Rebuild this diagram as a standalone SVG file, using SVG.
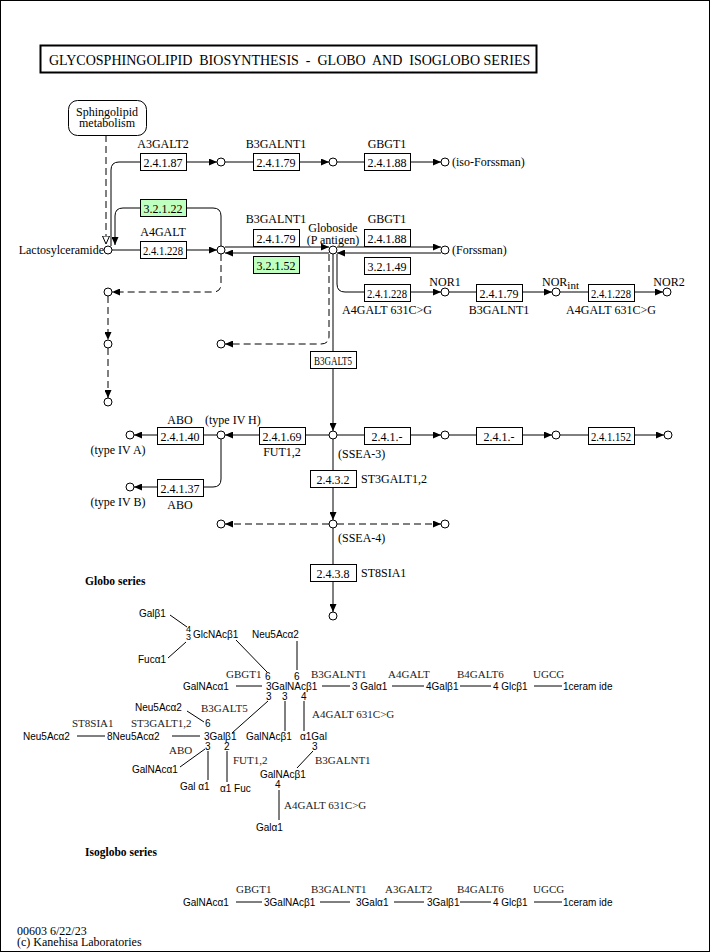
<svg xmlns="http://www.w3.org/2000/svg" width="710" height="952" viewBox="0 0 710 952">
<style>
.n{fill:#fff;stroke:#000;stroke-width:1}
.b{fill:#fff;stroke:#000;stroke-width:1}
.g{fill:#bfffbf;stroke:#000;stroke-width:1}
.l{stroke:#000;fill:none;stroke-width:1}
.d{stroke-dasharray:7,4}
.t{font-family:"Liberation Serif",serif;font-size:12px;fill:#000}
.k{font-family:"Liberation Serif",serif;font-size:11px;fill:#222}
.s{font-family:"Liberation Sans",sans-serif;font-size:10px;fill:#000}
.m{text-anchor:middle}
.e{text-anchor:end}
</style>
<defs>
<marker id="a" markerUnits="userSpaceOnUse" markerWidth="8" markerHeight="7" viewBox="0 0 8 7" refX="8" refY="3.5" orient="auto"><path d="M0,0L8,3.5L0,7z" fill="#000"/></marker>
<marker id="o" markerUnits="userSpaceOnUse" markerWidth="9" markerHeight="8" viewBox="0 0 9 8" refX="8.5" refY="4" orient="auto"><path d="M0.5,0.5L8.5,4L0.5,7.5z" fill="#fff" stroke="#000"/></marker>
</defs>
<rect x="0.5" y="0.5" width="709" height="951" fill="#fff" stroke="#000"/>
<g id="title">
<rect x="40.5" y="45.5" width="496" height="27" fill="#fff" stroke="#000" stroke-width="2"/>
<text class="t" x="49" y="64.5" style="font-size:14px;white-space:pre">GLYCOSPHINGOLIPID  BIOSYNTHESIS  -  GLOBO  AND  ISOGLOBO SERIES</text>
</g>
<g id="connectors">
<path class="l d" d="M106,135L106,244" marker-end="url(#o)"/>
<path class="l" d="M111,246L111,170Q111,162 119,162L140,162"/>
<path class="l" d="M186,162L217,162" marker-end="url(#a)"/>
<path class="l" d="M225,162L253,162"/>
<path class="l" d="M299,162L329,162" marker-end="url(#a)"/>
<path class="l" d="M337,162L364,162"/>
<path class="l" d="M410,162L441,162" marker-end="url(#a)"/>
<path class="l" d="M221,246L221,216Q221,208 213,208L186,208"/>
<path class="l" d="M140,208L123,208Q115,208 115,216L115,245" marker-end="url(#a)"/>
<path class="l" d="M112,250L140,250"/>
<path class="l" d="M186,250L217,250" marker-end="url(#a)"/>
<path class="l" d="M225,247L329,247" marker-end="url(#a)"/>
<path class="l" d="M329,253L225,253" marker-end="url(#a)"/>
<path class="l" d="M337,247L441,247" marker-end="url(#a)"/>
<path class="l" d="M441,253L337,253" marker-end="url(#a)"/>
<path class="l d" d="M221,254L221,284Q221,292 213,292L112,292" marker-end="url(#a)"/>
<path class="l d" d="M108,296L108,340" marker-end="url(#a)"/>
<path class="l d" d="M108,348L108,398" marker-end="url(#a)"/>
<path class="l d" d="M329,254L329,336Q329,344 321,344L225,344" marker-end="url(#a)"/>
<path class="l" d="M333,254L333,351"/>
<path class="l" d="M333,368L333,431" marker-end="url(#a)"/>
<path class="l" d="M337,254L337,284Q337,292 345,292L364,292"/>
<path class="l" d="M410,292L441,292" marker-end="url(#a)"/>
<path class="l" d="M449,292L476,292"/>
<path class="l" d="M522,292L552,292" marker-end="url(#a)"/>
<path class="l" d="M560,292L588,292"/>
<path class="l" d="M634,292L663,292" marker-end="url(#a)"/>
<path class="l" d="M329,435L305,435"/>
<path class="l" d="M259,435L225,435" marker-end="url(#a)"/>
<path class="l" d="M217,435L203,435"/>
<path class="l" d="M157,435L134,435" marker-end="url(#a)"/>
<path class="l" d="M221,439L221,479Q221,487 213,487L203,487"/>
<path class="l" d="M157,487L134,487" marker-end="url(#a)"/>
<path class="l" d="M337,435L364,435"/>
<path class="l" d="M410,435L441,435" marker-end="url(#a)"/>
<path class="l" d="M449,435L476,435"/>
<path class="l" d="M522,435L552,435" marker-end="url(#a)"/>
<path class="l" d="M560,435L588,435"/>
<path class="l" d="M634,435L664,435" marker-end="url(#a)"/>
<path class="l" d="M333,439L333,470"/>
<path class="l" d="M333,487L333,520" marker-end="url(#a)"/>
<path class="l d" d="M329,524L225,524" marker-end="url(#a)"/>
<path class="l d" d="M337,524L441,524" marker-end="url(#a)"/>
<path class="l" d="M333,528L333,564"/>
<path class="l" d="M333,581L333,612" marker-end="url(#a)"/>
</g>
<g id="map-sphingolipid">
<rect x="68.5" y="100.5" width="78" height="35" rx="9" class="b"/>
<text class="t m" x="107" y="116">Sphingolipid</text>
<text class="t m" x="107" y="127">metabolism</text>
</g>
<g id="cpd-lactosylceramide"><circle class="n" cx="108" cy="250" r="4"/><text class="t e" x="104" y="254">Lactosylceramide</text></g>
<g id="cpd-top1"><circle class="n" cx="221" cy="162" r="4"/></g>
<g id="cpd-top2"><circle class="n" cx="333" cy="162" r="4"/></g>
<g id="cpd-isoforssman"><circle class="n" cx="445" cy="162" r="4"/><text class="t" x="452" y="166">(iso-Forssman)</text></g>
<g id="cpd-gb3"><circle class="n" cx="221" cy="250" r="4"/></g>
<g id="cpd-globoside"><circle class="n" cx="333" cy="250" r="4"/><text class="t m" x="333" y="232">Globoside</text><text class="t m" x="333" y="244">(P antigen)</text></g>
<g id="cpd-forssman"><circle class="n" cx="445" cy="250" r="4"/><text class="t" x="452" y="254">(Forssman)</text></g>
<g id="cpd-d1"><circle class="n" cx="108" cy="292" r="4"/></g>
<g id="cpd-d2"><circle class="n" cx="108" cy="344" r="4"/></g>
<g id="cpd-d3"><circle class="n" cx="108" cy="402" r="4"/></g>
<g id="cpd-d4"><circle class="n" cx="221" cy="344" r="4"/></g>
<g id="cpd-nor1"><circle class="n" cx="445" cy="292" r="4"/><text class="t m" x="445" y="286">NOR1</text></g>
<g id="cpd-norint"><circle class="n" cx="556" cy="292" r="4"/><text class="t" x="542" y="286">NOR<tspan style="font-size:11px" dy="3">int</tspan></text></g>
<g id="cpd-nor2"><circle class="n" cx="667" cy="292" r="4"/><text class="t m" x="669" y="286">NOR2</text></g>
<g id="cpd-ssea3"><circle class="n" cx="333" cy="435" r="4"/><text class="t" x="338" y="458">(SSEA-3)</text></g>
<g id="cpd-typeIVH"><circle class="n" cx="221" cy="435" r="4"/><text class="t" x="205" y="424">(type IV H)</text></g>
<g id="cpd-typeIVA"><circle class="n" cx="130" cy="435" r="4"/><text class="t m" x="118" y="454">(type IV A)</text></g>
<g id="cpd-typeIVB"><circle class="n" cx="130" cy="487" r="4"/><text class="t m" x="118" y="506">(type IV B)</text></g>
<g id="cpd-r1"><circle class="n" cx="445" cy="435" r="4"/></g>
<g id="cpd-r2"><circle class="n" cx="556" cy="435" r="4"/></g>
<g id="cpd-r3"><circle class="n" cx="668" cy="435" r="4"/></g>
<g id="cpd-ssea4"><circle class="n" cx="333" cy="524" r="4"/><text class="t" x="338" y="542">(SSEA-4)</text></g>
<g id="cpd-s4l"><circle class="n" cx="221" cy="524" r="4"/></g>
<g id="cpd-s4r"><circle class="n" cx="445" cy="524" r="4"/></g>
<g id="cpd-s5"><circle class="n" cx="333" cy="616" r="4"/></g>

<g id="ec-2.4.1.87"><rect class="b" x="140.5" y="153.5" width="46" height="17"/><text class="t m" x="163" y="167">2.4.1.87</text><text class="t m" x="163" y="148">A3GALT2</text></g>
<g id="ec-2.4.1.79a"><rect class="b" x="253.5" y="153.5" width="46" height="17"/><text class="t m" x="276" y="167">2.4.1.79</text><text class="t m" x="276" y="148">B3GALNT1</text></g>
<g id="ec-2.4.1.88a"><rect class="b" x="364.5" y="153.5" width="46" height="17"/><text class="t m" x="387" y="167">2.4.1.88</text><text class="t m" x="387" y="148">GBGT1</text></g>
<g id="ec-3.2.1.22"><rect class="g" x="140.5" y="199.5" width="46" height="17"/><text class="t m" x="163" y="213">3.2.1.22</text></g>
<g id="ec-2.4.1.228a"><rect class="b" x="140.5" y="241.5" width="46" height="17"/><text class="t m" x="163" y="255" textLength="40" lengthAdjust="spacingAndGlyphs">2.4.1.228</text><text class="t m" x="163" y="236">A4GALT</text></g>
<g id="ec-2.4.1.79b"><rect class="b" x="253.5" y="229.5" width="46" height="17"/><text class="t m" x="276" y="243">2.4.1.79</text><text class="t m" x="276" y="223">B3GALNT1</text></g>
<g id="ec-3.2.1.52"><rect class="g" x="253.5" y="256.5" width="46" height="17"/><text class="t m" x="276" y="270">3.2.1.52</text></g>
<g id="ec-2.4.1.88b"><rect class="b" x="364.5" y="229.5" width="46" height="17"/><text class="t m" x="387" y="243">2.4.1.88</text><text class="t m" x="387" y="223">GBGT1</text></g>
<g id="ec-3.2.1.49"><rect class="b" x="364.5" y="257.5" width="46" height="17"/><text class="t m" x="387" y="271">3.2.1.49</text></g>
<g id="ec-2.4.1.228b"><rect class="b" x="364.5" y="284.5" width="46" height="17"/><text class="t m" x="387" y="298" textLength="40" lengthAdjust="spacingAndGlyphs">2.4.1.228</text><text class="t m" x="387" y="314">A4GALT 631C&gt;G</text></g>
<g id="ec-2.4.1.79c"><rect class="b" x="476.5" y="284.5" width="46" height="17"/><text class="t m" x="499" y="298">2.4.1.79</text><text class="t m" x="499" y="314">B3GALNT1</text></g>
<g id="ec-2.4.1.228c"><rect class="b" x="588.5" y="284.5" width="46" height="17"/><text class="t m" x="611" y="298" textLength="40" lengthAdjust="spacingAndGlyphs">2.4.1.228</text><text class="t m" x="611" y="314">A4GALT 631C&gt;G</text></g>
<g id="gene-B3GALT5"><rect class="b" x="310.5" y="351.5" width="46" height="17"/><text class="t m" x="333" y="365" textLength="38" lengthAdjust="spacingAndGlyphs">B3GALT5</text></g>
<g id="ec-2.4.1.69"><rect class="b" x="259.5" y="427.5" width="46" height="17"/><text class="t m" x="282" y="441">2.4.1.69</text><text class="t m" x="282" y="456">FUT1,2</text></g>
<g id="ec-2.4.1.40"><rect class="b" x="157.5" y="427.5" width="46" height="17"/><text class="t m" x="180" y="441">2.4.1.40</text><text class="t m" x="180" y="424">ABO</text></g>
<g id="ec-2.4.1.37"><rect class="b" x="157.5" y="479.5" width="46" height="17"/><text class="t m" x="180" y="493">2.4.1.37</text><text class="t m" x="180" y="509">ABO</text></g>
<g id="ec-2.4.1.-a"><rect class="b" x="364.5" y="427.5" width="46" height="17"/><text class="t m" x="387" y="441">2.4.1.-</text></g>
<g id="ec-2.4.1.-b"><rect class="b" x="476.5" y="427.5" width="46" height="17"/><text class="t m" x="499" y="441">2.4.1.-</text></g>
<g id="ec-2.4.1.152"><rect class="b" x="588.5" y="427.5" width="46" height="17"/><text class="t m" x="611" y="441" textLength="40" lengthAdjust="spacingAndGlyphs">2.4.1.152</text></g>
<g id="ec-2.4.3.2"><rect class="b" x="310.5" y="470.5" width="46" height="17"/><text class="t m" x="333" y="484">2.4.3.2</text><text class="t" x="361" y="483">ST3GALT1,2</text></g>
<g id="ec-2.4.3.8"><rect class="b" x="310.5" y="564.5" width="46" height="17"/><text class="t m" x="333" y="578">2.4.3.8</text><text class="t" x="361" y="577">ST8SIA1</text></g>

<g id="globo-series">
<text class="t" x="85" y="585" style="font-weight:bold;font-size:11.5px">Globo series</text>
<path class="l" d="M170,615L187,627M168,658L186,642M236,640L267,672M297,641L297,670M236,686L262,686M322,686L350,686M392,686L424,686M460,686L491,686M534,686L562,686"/>
<path class="l" d="M268,701L232,733M285,701L285,731M304,701L304,731M187,711L204,722M77,736L105,736M172,736L200,736M205,749L180,767M208,751L208,780M227,751L227,782M313,751L297,768M279,790L279,820"/>
<text class="s" x="139" y="617">Galβ1</text>
<text class="s" x="186" y="632" style="font-size:9px">4</text>
<text class="s" x="186" y="640" style="font-size:9px">3</text>
<text class="s" x="193" y="638">GlcNAcβ1</text>
<text class="s" x="252" y="638">Neu5Acα2</text>
<text class="s" x="138" y="663">Fucα1</text>
<text class="k" x="226" y="678">GBGT1</text>
<text class="s" x="265" y="680">6</text>
<text class="s" x="294" y="680">6</text>
<text class="k" x="311" y="678">B3GALNT1</text>
<text class="k" x="388" y="678">A4GALT</text>
<text class="k" x="457" y="678">B4GALT6</text>
<text class="k" x="533" y="678">UGCG</text>
<text class="s" x="183" y="690">GalNAcα1</text>
<text class="s" x="266" y="690">3GalNAcβ1</text>
<text class="s" x="352" y="690">3 Galα1</text>
<text class="s" x="426" y="690">4Galβ1</text>
<text class="s" x="493" y="690">4 Glcβ1</text>
<text class="s" x="563" y="690">1ceram ide</text>
<text class="s" x="266" y="700">3</text>
<text class="s" x="282" y="700">3</text>
<text class="s" x="301" y="700">4</text>
<text class="k" x="312" y="718">A4GALT 631C&gt;G</text>
<text class="s" x="135" y="711">Neu5Acα2</text>
<text class="k" x="201" y="712">B3GALT5</text>
<text class="s" x="205" y="727">6</text>
<text class="k" x="72" y="727">ST8SIA1</text>
<text class="k" x="131" y="727">ST3GALT1,2</text>
<text class="s" x="23" y="740">Neu5Acα2</text>
<text class="s" x="107" y="740">8Neu5Acα2</text>
<text class="s" x="204" y="740">3Galβ1</text>
<text class="s" x="246" y="740">GalNAcβ1</text>
<text class="s" x="300" y="740">α1Gal</text>
<text class="k" x="169" y="754">ABO</text>
<text class="s" x="205" y="750">3</text>
<text class="s" x="224" y="750">2</text>
<text class="s" x="312" y="750">3</text>
<text class="k" x="233" y="764">FUT1,2</text>
<text class="k" x="315" y="764">B3GALNT1</text>
<text class="s" x="132" y="773">GalNAcα1</text>
<text class="s" x="260" y="778">GalNAcβ1</text>
<text class="s" x="275" y="788">4</text>
<text class="s" x="180" y="790">Gal α1</text>
<text class="s" x="220" y="792">α1 Fuc</text>
<text class="k" x="284" y="809">A4GALT 631C&gt;G</text>
<text class="s" x="256" y="831">Galα1</text>
</g>

<g id="isoglobo-series">
<text class="t" x="85" y="856" style="font-weight:bold;font-size:11.5px">Isoglobo series</text>
<path class="l" d="M236,902L262,902M320,902L350,902M394,902L424,902M460,902L491,902M534,902L562,902"/>
<text class="k" x="236" y="893">GBGT1</text>
<text class="k" x="311" y="893">B3GALNT1</text>
<text class="k" x="385" y="893">A3GALT2</text>
<text class="k" x="457" y="893">B4GALT6</text>
<text class="k" x="533" y="893">UGCG</text>
<text class="s" x="183" y="906">GalNAcα1</text>
<text class="s" x="264" y="906">3GalNAcβ1</text>
<text class="s" x="356" y="906">3Galα1</text>
<text class="s" x="427" y="906">3Galβ1</text>
<text class="s" x="493" y="906">4 Glcβ1</text>
<text class="s" x="563" y="906">1ceram ide</text>
</g>
<g id="footer">
<text class="t" x="17" y="935">00603 6/22/23</text>
<text class="t" x="17" y="946">(c) Kanehisa Laboratories</text>
</g>
</svg>
